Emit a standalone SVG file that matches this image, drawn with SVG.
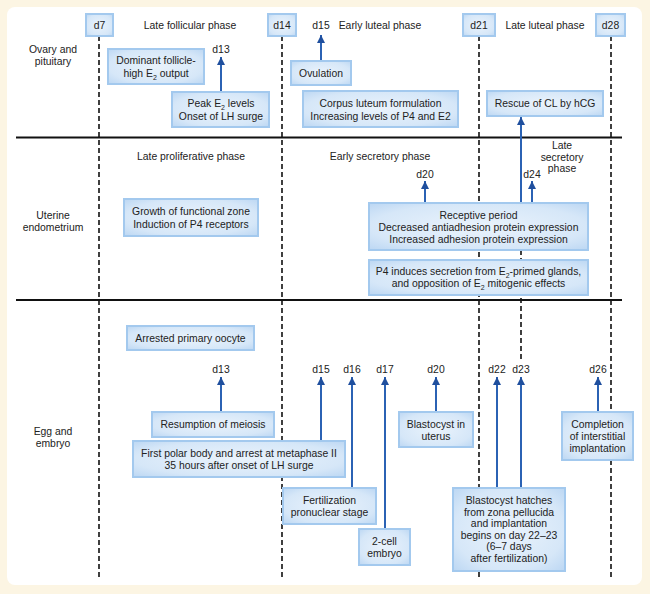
<svg xmlns="http://www.w3.org/2000/svg" width="650" height="594" viewBox="0 0 650 594">
<defs>
<radialGradient id="bf" cx="50%" cy="50%" r="70%">
<stop offset="0%" stop-color="#eaf3fc"/>
<stop offset="70%" stop-color="#d6e7f8"/>
<stop offset="100%" stop-color="#bcd7f3"/>
</radialGradient>
<marker id="ah" markerUnits="userSpaceOnUse" markerWidth="8" markerHeight="8" refX="8" refY="4" orient="auto">
<path d="M0,0 L8,4 L0,8 z" fill="#1f4f9e"/>
</marker>
<style>
text{font-family:"Liberation Sans",Arial,sans-serif;font-size:10.4px;fill:#222;text-anchor:middle}
.box{fill:url(#bf);stroke:#a3c9ee;stroke-width:2}
.dash{stroke:#111;stroke-width:1.6;stroke-dasharray:5,3;fill:none}
.hl{stroke:#111;stroke-width:1.8}
.arr{stroke:#2b62b4;stroke-width:2;fill:none;marker-end:url(#ah)}
.sub{font-size:7px}
</style>
</defs>
<rect x="0" y="0" width="650" height="594" fill="#fcf5e3"/>
<rect x="7" y="7" width="635" height="578" rx="8" fill="#ffffff"/>

<g id="grid">
<line class="hl" x1="16" y1="137.5" x2="622" y2="137.5"/>
<line class="hl" x1="16" y1="300" x2="622" y2="300"/>
<line class="dash" x1="99" y1="36" x2="99" y2="578"/>
<line class="dash" x1="282" y1="36" x2="282" y2="578"/>
<line class="dash" x1="479" y1="36" x2="479" y2="578"/>
<line class="dash" x1="611" y1="36" x2="611" y2="578"/>
<line class="dash" x1="521" y1="250" x2="521" y2="362"/>
</g>

<g id="labels">
<text x="53" y="53">Ovary and</text>
<text x="53" y="65">pituitary</text>
<text x="53" y="219">Uterine</text>
<text x="53" y="231">endometrium</text>
<text x="53" y="435">Egg and</text>
<text x="53" y="447">embryo</text>
<text x="190" y="29">Late follicular phase</text>
<text x="321" y="29">d15</text>
<text x="380" y="29">Early luteal phase</text>
<text x="545" y="29">Late luteal phase</text>
<text x="221" y="53">d13</text>
<text x="191" y="160">Late proliferative phase</text>
<text x="380" y="160">Early secretory phase</text>
<text x="562" y="149">Late</text>
<text x="562" y="161">secretory</text>
<text x="562" y="172">phase</text>
<text x="425" y="178">d20</text>
<text x="532" y="178">d24</text>
<text x="221" y="373">d13</text>
<text x="321" y="373">d15</text>
<text x="352" y="373">d16</text>
<text x="385" y="373">d17</text>
<text x="436" y="373">d20</text>
<text x="497" y="373">d22</text>
<text x="521" y="373">d23</text>
<text x="598" y="373">d26</text>
</g>

<g id="connectors">
<line class="arr" x1="321" y1="61" x2="321" y2="35"/>
<line class="arr" x1="221" y1="92" x2="221" y2="57"/>
<line class="arr" x1="521" y1="203" x2="521" y2="117"/>
<line class="arr" x1="425" y1="203" x2="425" y2="181"/>
<line class="arr" x1="532" y1="203" x2="532" y2="181"/>
<line class="arr" x1="221" y1="412" x2="221" y2="377"/>
<line class="arr" x1="321" y1="441" x2="321" y2="377"/>
<line class="arr" x1="352" y1="488" x2="352" y2="377"/>
<line class="arr" x1="385" y1="529" x2="385" y2="377"/>
<line class="arr" x1="436" y1="412" x2="436" y2="377"/>
<line class="arr" x1="497" y1="488" x2="497" y2="377"/>
<line class="arr" x1="521" y1="488" x2="521" y2="377"/>
<line class="arr" x1="598" y1="412" x2="598" y2="377"/>
</g>

<g id="d7"><rect class="box" x="86" y="14" width="27" height="22"/><text x="99.5" y="29">d7</text></g>
<g id="d14"><rect class="box" x="268" y="14" width="28" height="22"/><text x="282" y="29">d14</text></g>
<g id="d21"><rect class="box" x="463" y="14" width="32" height="22"/><text x="479" y="29">d21</text></g>
<g id="d28"><rect class="box" x="596" y="14" width="29" height="22"/><text x="610.5" y="29">d28</text></g>

<g id="dominant"><rect class="box" x="108" y="49" width="96" height="35"/>
<text x="156" y="64">Dominant follicle-</text>
<text x="156" y="77">high E<tspan class="sub" dy="2.5">2</tspan><tspan dy="-2.5"> output</tspan></text></g>

<g id="peak"><rect class="box" x="172" y="92" width="97" height="35"/>
<text x="221" y="107">Peak E<tspan class="sub" dy="2.5">2</tspan><tspan dy="-2.5"> levels</tspan></text>
<text x="221" y="120">Onset of LH surge</text></g>

<g id="ovulation"><rect class="box" x="291" y="61" width="60" height="24"/>
<text x="321" y="77">Ovulation</text></g>

<g id="corpus"><rect class="box" x="303" y="91" width="155" height="36"/>
<text x="380.5" y="107">Corpus luteum formulation</text>
<text x="380.5" y="120">Increasing levels of P4 and E2</text></g>

<g id="rescue"><rect class="box" x="487" y="91" width="116" height="25"/>
<text x="545" y="107">Rescue of CL by hCG</text></g>

<g id="growth"><rect class="box" x="124" y="199" width="134" height="37"/>
<text x="191" y="215">Growth of functional zone</text>
<text x="191" y="228">Induction of P4 receptors</text></g>

<g id="receptive"><rect class="box" x="369" y="203" width="219" height="47"/>
<text x="478.5" y="219">Receptive period</text>
<text x="478.5" y="231">Decreased antiadhesion protein expression</text>
<text x="478.5" y="243">Increased adhesion protein expression</text></g>

<g id="p4"><rect class="box" x="369" y="260" width="219" height="35"/>
<text x="478.5" y="275">P4 induces secretion from E<tspan class="sub" dy="2.5">2</tspan><tspan dy="-2.5">-primed glands,</tspan></text>
<text x="478.5" y="287">and opposition of E<tspan class="sub" dy="2.5">2</tspan><tspan dy="-2.5"> mitogenic effects</tspan></text></g>

<g id="arrested"><rect class="box" x="127" y="326" width="127" height="24"/>
<text x="190.5" y="342">Arrested primary oocyte</text></g>

<g id="resumption"><rect class="box" x="152" y="412" width="122" height="25"/>
<text x="213" y="428">Resumption of meiosis</text></g>

<g id="polar"><rect class="box" x="133" y="441" width="212" height="36"/>
<text x="239" y="457">First polar body and arrest at metaphase II</text>
<text x="239" y="469">35 hours after onset of LH surge</text></g>

<g id="fertilization"><rect class="box" x="283" y="488" width="93" height="36"/>
<text x="329.5" y="504">Fertilization</text>
<text x="329.5" y="516">pronuclear stage</text></g>

<g id="twocell"><rect class="box" x="359" y="529" width="51" height="36"/>
<text x="384.5" y="545">2-cell</text>
<text x="384.5" y="557">embryo</text></g>

<g id="blastuterus"><rect class="box" x="399" y="412" width="74" height="35"/>
<text x="436" y="428">Blastocyst in</text>
<text x="436" y="440">uterus</text></g>

<g id="hatches"><rect class="box" x="453" y="488" width="112" height="83"/>
<text x="509" y="504">Blastocyst hatches</text>
<text x="509" y="515.5">from zona pellucida</text>
<text x="509" y="527">and implantation</text>
<text x="509" y="538.5">begins on day 22–23</text>
<text x="509" y="550">(6–7 days</text>
<text x="509" y="561.5">after fertilization)</text></g>

<g id="completion"><rect class="box" x="562" y="412" width="71" height="48"/>
<text x="597.5" y="428">Completion</text>
<text x="597.5" y="440">of interstitial</text>
<text x="597.5" y="452">implantation</text></g>
</svg>
